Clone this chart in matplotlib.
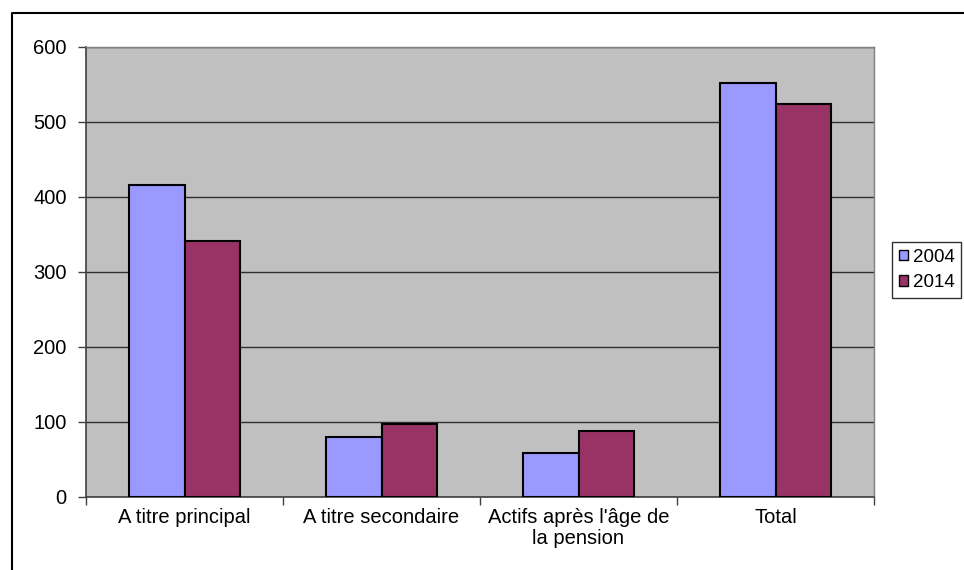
import matplotlib
matplotlib.use("Agg")
import matplotlib.pyplot as plt
import numpy as np
from matplotlib.lines import Line2D
from matplotlib.patches import Patch

plt.rcParams['font.family'] = ['Liberation Sans', 'DejaVu Sans']

categories = ["A titre principal", "A titre secondaire", "Actifs après l'âge de\nla pension", "Total"]
series_names = ["2004", "2014"]
values_2004 = [415, 79, 58, 551]
values_2014 = [341, 97, 87, 524]
yticks = [0, 100, 200, 300, 400, 500, 600]

colors = ["#9999FF", "#993366"]

fig = plt.figure(figsize=(9.64, 5.70), dpi=100)
ax = fig.add_axes([86/964, 1-496.7/570, (874-86)/964, (496.7-46.7)/570])
ax.set_facecolor("#C0C0C0")

x = np.arange(len(categories))
w = 0.284
ax.bar(x - w/2, values_2004, width=w, color=colors[0], edgecolor="black", linewidth=1.5, zorder=3)
ax.bar(x + w/2, values_2014, width=w, color=colors[1], edgecolor="black", linewidth=1.5, zorder=3)

ax.set_ylim(0, 600)
ax.set_xlim(-0.5, len(categories) - 0.5)
ax.set_yticks(yticks)
ax.set_yticklabels([str(t) for t in yticks], fontsize=14.5)
ax.yaxis.grid(True, color="#303030", linewidth=1, zorder=1)
ax.set_axisbelow(True)

ax.set_xticks(np.arange(-0.5, len(categories), 1.0))
ax.set_xticklabels([])
ax.set_xticks(x, minor=True)
ax.set_xticklabels(categories, minor=True, fontsize=14.5, ha="center", linespacing=1.15)
ax.tick_params(axis="x", which="minor", length=0, pad=8)
ax.tick_params(axis="x", which="major", length=6, width=1, color="#404040", direction="out")
ax.tick_params(axis="y", length=6, width=1, color="#404040", direction="out", pad=8)

for s in ["left", "bottom"]:
    ax.spines[s].set_color("#404040")
    ax.spines[s].set_linewidth(1.2)
for s in ["top", "right"]:
    ax.spines[s].set_color("#808080")
    ax.spines[s].set_linewidth(1)

handles = [Patch(facecolor=colors[i], edgecolor="black", linewidth=1) for i in range(2)]
leg = fig.legend(handles, series_names, loc="upper left", bbox_to_anchor=(892/964, 1-242/570),
                 fontsize=13.5, frameon=True, fancybox=False, edgecolor="black",
                 handlelength=0.5, handleheight=0.5, handletextpad=0.25,
                 borderpad=0.35, labelspacing=0.45, borderaxespad=0)
leg.get_frame().set_linewidth(1)

fig.add_artist(Line2D([11.5/964, 11.5/964, 1], [0, 1-12.5/570, 1-12.5/570],
                      transform=fig.transFigure, color="black", linewidth=1.5))

fig.savefig("out.png", dpi=100)
